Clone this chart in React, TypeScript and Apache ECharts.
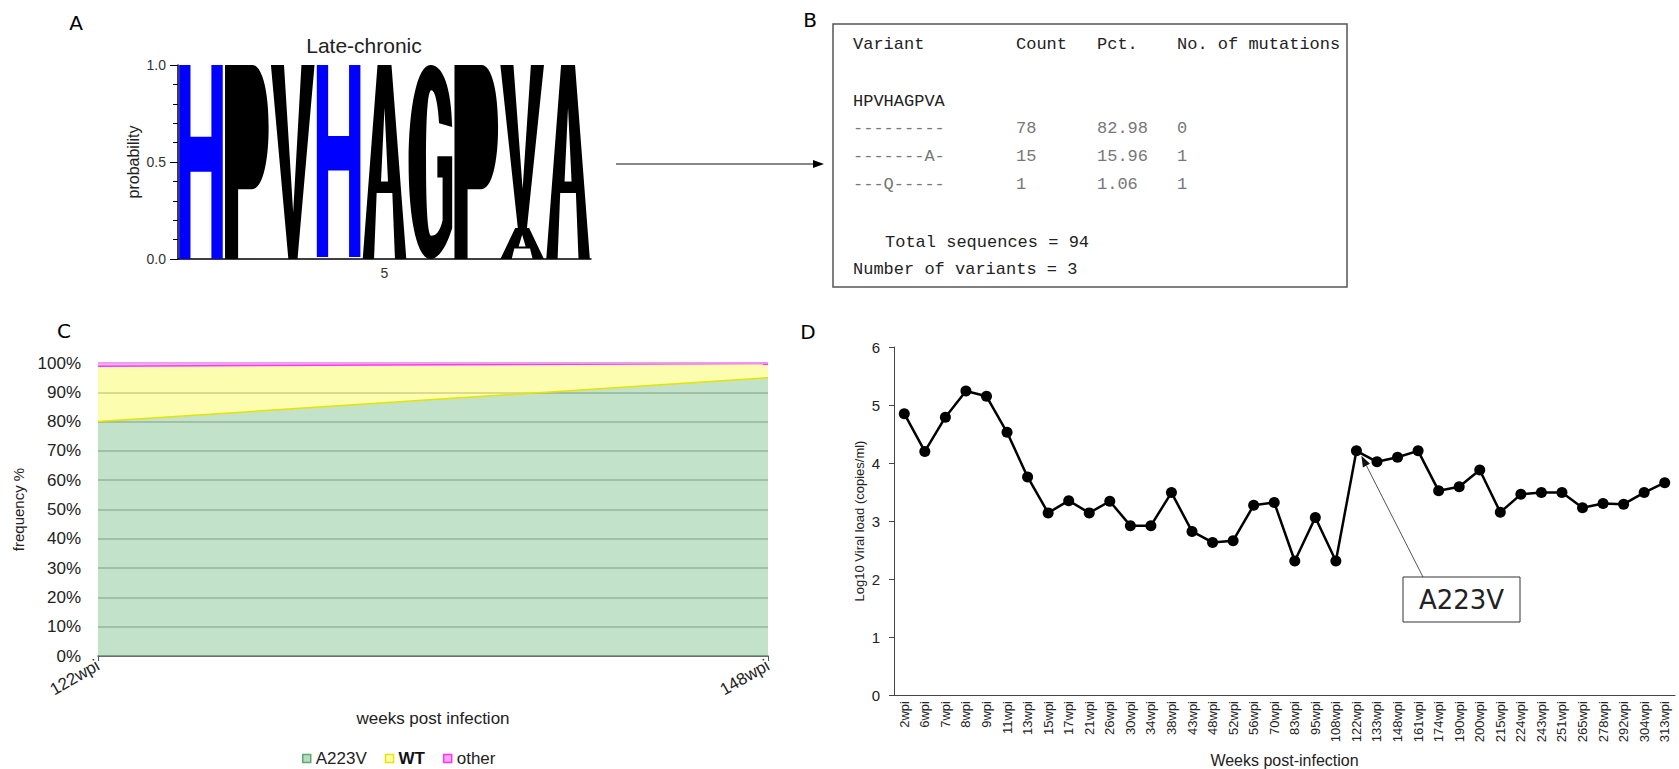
import React, { useEffect, useRef } from "react";
import * as echarts from "echarts";

// ---------- Panel A: sequence logo ----------
const logoPositions = ["1", "2", "3", "4", "5", "6", "7", "8", "9"];
const logoMainLetters = ["H", "P", "V", "H", "A", "G", "P", "V", "A"];
const logoMainProb = [1, 1, 1, 0.9894, 1, 1, 1, 0.8404, 1];
const logoMinorLetters = ["", "", "", "Q", "", "", "", "A", ""];
const logoMinorProb = [0, 0, 0, 0.0106, 0, 0, 0, 0.1596, 0];
const logoTitle = "Late-chronic";

// ---------- Panel B: variant table ----------
const tableHeaders = ["Variant", "Count", "Pct.", "No. of mutations"];
const referenceSequence = "HPVHAGPVA";
const variantPatterns = ["---------", "-------A-", "---Q-----"];
const variantCounts = ["78", "15", "1"];
const variantPcts = ["82.98", "15.96", "1.06"];
const variantMutations = ["0", "1", "1"];
const totalSequences = 94;
const numberOfVariants = 3;

// ---------- Panel C: stacked frequency ----------
const freqCategories = ["122wpi", "148wpi"];
const freqA223V = [80, 95];
const freqWT = [18.9, 4.8];
const freqOther = [1.1, 0.2];

// ---------- Panel D: viral load ----------
const vlCategories = [
  "2wpi", "6wpi", "7wpi", "8wpi", "9wpi", "11wpi", "13wpi", "15wpi", "17wpi", "21wpi",
  "26wpi", "30wpi", "34wpi", "38wpi", "43wpi", "48wpi", "52wpi", "56wpi", "70wpi", "83wpi",
  "95wpi", "108wpi", "122wpi", "133wpi", "148wpi", "161wpi", "174wpi", "190wpi", "200wpi", "215wpi",
  "224wpi", "243wpi", "251wpi", "265wpi", "278wpi", "292wpi", "304wpi", "313wpi",
];
const vlValues = [
  4.85, 4.2, 4.79, 5.24, 5.15, 4.53, 3.76, 3.14, 3.35, 3.14,
  3.34, 2.92, 2.92, 3.49, 2.82, 2.63, 2.66, 3.27, 3.32, 2.31,
  3.06, 2.31, 4.21, 4.02, 4.1, 4.21, 3.52, 3.59, 3.88, 3.15,
  3.46, 3.49, 3.49, 3.23, 3.3, 3.29, 3.49, 3.66,
];
const annotatedWeek = "122wpi";
const annotationLabel = "A223V";

const SANS = '"Liberation Sans", Arial, sans-serif';
const MONO = '"Liberation Mono", "Courier New", monospace';
const DEJAVU = '"DejaVu Sans", sans-serif';

const GLYPHS: Record<string, string> = {
  H: "M0 0H26V37H74V0H100V100H74V55H26V100H0Z",
  P: "M0 0H62C86 0 100 14 100 32C100 50 86 64 62 64H30V100H0Z",
  V: "M0 0H30L51 76L70 0H100L61 100H40Z",
  A: "M34 0H66L100 100H74L68 66H32L26 100H0Z M42 60H58L50 22Z",
  G: "M100 32C98 12 80 0 50 0C20 0 0 22 0 50C0 80 20 100 50 100C70 100 88 93 100 84V47H66V58H78V80C72 86 62 88 52 88C44 88 40 74 40 50C40 26 44 13 52 13C62 13 68 22 70 30Z",
  Q: "M50 0C80 0 100 22 100 50C100 78 80 100 50 100C20 100 0 78 0 50C0 22 20 0 50 0Z M50 20C36 20 28 32 28 50C28 68 36 80 50 80C64 80 72 68 72 50C72 32 64 20 50 20Z",
};
const LETTER_COLORS: Record<string, string> = { H: "#0000ff", Q: "#00a000" };

type LogoItem = { value: number[]; letter: string };
const logoItems: LogoItem[] = [];
logoPositions.forEach((_, i) => {
  if (logoMinorProb[i] > 0) {
    logoItems.push({ value: [i, 0, logoMinorProb[i]], letter: logoMinorLetters[i] });
  }
  logoItems.push({
    value: [i, logoMinorProb[i], logoMinorProb[i] + logoMainProb[i]],
    letter: logoMainLetters[i],
  });
});

function buildOption(): any {
  return {
    animation: false,
    backgroundColor: "#ffffff",
    grid: [
      { left: 178, top: 65, width: 413, height: 194 },
      { left: 98, top: 363, width: 670, height: 293 },
      { left: 894, top: 347, width: 781, height: 348 },
    ],
    legend: {
      left: 302,
      top: 750,
      padding: 0,
      itemWidth: 8,
      itemHeight: 8,
      itemGap: 18,
      icon: "rect",
      selectedMode: false,
      textStyle: { fontSize: 17, fontFamily: SANS, color: "#222" },
      data: [
        { name: "A223V", itemStyle: { color: "#b5dcc0", borderColor: "#5caa6c", borderWidth: 1.5 } },
        {
          name: "WT",
          itemStyle: { color: "#ffffa8", borderColor: "#e6e600", borderWidth: 1.5 },
          textStyle: { fontWeight: "bold", fontSize: 17, fontFamily: SANS, color: "#111" },
        },
        { name: "other", itemStyle: { color: "#ffa8ff", borderColor: "#ff33ff", borderWidth: 1.5 } },
      ],
    },
    xAxis: [
      {
        gridIndex: 0,
        type: "category",
        data: logoPositions,
        boundaryGap: true,
        axisLine: { lineStyle: { color: "#000", width: 1.5 } },
        axisTick: { alignWithLabel: true, length: 4, lineStyle: { color: "#000" } },
        axisLabel: {
          interval: 0,
          margin: 7,
          fontSize: 14,
          fontFamily: SANS,
          color: "#333",
          formatter: (v: string) => (v === "5" ? v : ""),
        },
        splitLine: { show: false },
      },
      {
        gridIndex: 1,
        type: "category",
        data: freqCategories,
        boundaryGap: false,
        axisLine: { lineStyle: { color: "#555", width: 1.5 } },
        axisTick: { length: 5, lineStyle: { color: "#555" } },
        axisLabel: { rotate: 30, margin: 8, fontSize: 17, fontFamily: SANS, color: "#222" },
        name: "weeks post infection",
        nameLocation: "middle",
        nameGap: 54,
        nameTextStyle: { fontSize: 17, fontFamily: SANS, color: "#222" },
      },
      {
        gridIndex: 2,
        type: "category",
        position: "bottom",
        data: vlCategories,
        boundaryGap: true,
        axisLine: { lineStyle: { color: "#444", width: 1 } },
        axisTick: { length: 5, interval: 0, lineStyle: { color: "#444" } },
        axisLabel: { rotate: 90, interval: 0, margin: 6, fontSize: 13, fontFamily: SANS, color: "#222" },
        name: "Weeks post-infection",
        nameLocation: "middle",
        nameGap: 57,
        nameTextStyle: { fontSize: 16, fontFamily: SANS, color: "#222" },
      },
      {
        gridIndex: 2,
        type: "category",
        position: "bottom",
        data: vlCategories,
        boundaryGap: true,
        axisLine: { show: false },
        axisTick: { inside: true, length: 5, interval: 0, lineStyle: { color: "#444" } },
        axisLabel: { show: false },
      },
    ],
    yAxis: [
      {
        gridIndex: 0,
        type: "value",
        min: 0,
        max: 1,
        interval: 0.5,
        axisLine: { show: true, lineStyle: { color: "#000", width: 1.5 } },
        axisTick: { show: true, length: 8, lineStyle: { color: "#000" } },
        minorTick: { show: true, splitNumber: 5, length: 5, lineStyle: { color: "#000" } },
        axisLabel: {
          margin: 12,
          fontSize: 14,
          fontFamily: SANS,
          color: "#333",
          formatter: (v: number) => v.toFixed(1),
        },
        splitLine: { show: false },
        name: "probability",
        nameLocation: "middle",
        nameGap: 37,
        nameTextStyle: { fontSize: 16, fontFamily: SANS, color: "#222" },
      },
      {
        gridIndex: 1,
        type: "value",
        min: 0,
        max: 100,
        interval: 10,
        axisLine: { show: false },
        axisTick: { show: false },
        axisLabel: { margin: 17, fontSize: 17, fontFamily: SANS, color: "#222", formatter: "{value}%" },
        splitLine: { lineStyle: { color: "#9a9a9a", width: 1.5 } },
        name: "frequency %",
        nameLocation: "middle",
        nameGap: 72,
        nameTextStyle: { fontSize: 15, fontFamily: SANS, color: "#222" },
      },
      {
        gridIndex: 2,
        type: "value",
        min: 0,
        max: 6,
        interval: 1,
        axisLine: { show: true, lineStyle: { color: "#444", width: 1 } },
        axisTick: { show: true, length: 5, lineStyle: { color: "#444" } },
        axisLabel: { margin: 14, fontSize: 15, fontFamily: SANS, color: "#222" },
        splitLine: { show: false },
        name: "Log10 Viral load (copies/ml)",
        nameLocation: "middle",
        nameGap: 28,
        nameTextStyle: { fontSize: 13, fontFamily: SANS, color: "#222" },
      },
    ],
    series: [
      {
        type: "custom",
        name: "logo",
        xAxisIndex: 0,
        yAxisIndex: 0,
        silent: true,
        encode: { x: 0, y: [1, 2] },
        data: logoItems.map((d) => d.value),
        renderItem: (params: any, api: any) => {
          const item = logoItems[params.dataIndex];
          const bottom = api.coord([api.value(0), api.value(1)]);
          const top = api.coord([api.value(0), api.value(2)]);
          const w = api.size([1, 0])[0] * 0.95;
          const h = bottom[1] - top[1];
          if (h <= 2.5) return null;
          return {
            type: "path",
            shape: {
              pathData: GLYPHS[item.letter],
              x: bottom[0] - w / 2,
              y: top[1],
              width: w,
              height: h,
              layout: "cover",
            },
            style: { fill: LETTER_COLORS[item.letter] || "#000000" },
          };
        },
      },
      {
        type: "line",
        name: "A223V",
        xAxisIndex: 1,
        yAxisIndex: 1,
        stack: "freq",
        symbol: "none",
        silent: true,
        data: freqA223V,
        lineStyle: { color: "#e4e400", width: 1.5 },
        areaStyle: { color: "#8fcc9f", opacity: 0.55 },
        itemStyle: { color: "#5caa6c" },
      },
      {
        type: "line",
        name: "WT",
        xAxisIndex: 1,
        yAxisIndex: 1,
        stack: "freq",
        symbol: "none",
        silent: true,
        data: freqWT,
        lineStyle: { color: "#ff33ff", width: 1.5 },
        areaStyle: { color: "#fbfb6f", opacity: 0.55 },
        itemStyle: { color: "#e6e600" },
      },
      {
        type: "line",
        name: "other",
        xAxisIndex: 1,
        yAxisIndex: 1,
        stack: "freq",
        symbol: "none",
        silent: true,
        data: freqOther,
        lineStyle: { color: "#ffa0ff", width: 1.5 },
        areaStyle: { color: "#ff75ff", opacity: 0.55 },
        itemStyle: { color: "#ff33ff" },
      },
      {
        type: "line",
        name: "viral load",
        xAxisIndex: 2,
        yAxisIndex: 2,
        silent: true,
        data: vlValues,
        symbol: "circle",
        symbolSize: 11,
        lineStyle: { color: "#000", width: 2.5 },
        itemStyle: { color: "#000" },
      },
    ],
  };
}

function buildGraphics(tip: number[]): any[] {
  const els: any[] = [];
  const panelLetter = (t: string, x: number, y: number) => ({
    type: "text",
    x,
    y,
    style: { text: t, fontSize: 20, fontFamily: DEJAVU, fill: "#000", align: "center", verticalAlign: "middle" },
  });
  els.push(panelLetter("A", 76, 23));
  els.push(panelLetter("B", 810, 20));
  els.push(panelLetter("C", 64, 331));
  els.push(panelLetter("D", 808, 332));

  els.push({
    type: "text",
    x: 364,
    y: 45,
    style: { text: logoTitle, fontSize: 21, fontFamily: SANS, fill: "#222", align: "center", verticalAlign: "middle" },
  });

  // Panel B table
  els.push({
    type: "rect",
    shape: { x: 833, y: 24, width: 514, height: 263 },
    style: { fill: "none", stroke: "#555", lineWidth: 1.5 },
  });
  const colX = [853, 1016, 1097, 1177];
  const txt = (t: string, x: number, y: number, strong: boolean) => ({
    type: "text",
    x,
    y,
    style: {
      text: t,
      fontSize: 17,
      fontFamily: MONO,
      fontWeight: "normal",
      fill: strong ? "#222" : "#777",
      align: "left",
      verticalAlign: "middle",
    },
  });
  tableHeaders.forEach((h, i) => els.push(txt(h, colX[i], 44, true)));
  els.push(txt(referenceSequence, colX[0], 101, true));
  const rowY = [128, 156, 184];
  variantPatterns.forEach((p, r) => {
    els.push(txt(p, colX[0], rowY[r], false));
    els.push(txt(variantCounts[r], colX[1], rowY[r], false));
    els.push(txt(variantPcts[r], colX[2], rowY[r], false));
    els.push(txt(variantMutations[r], colX[3], rowY[r], false));
  });
  els.push(txt("Total sequences = " + totalSequences, 885, 242, true));
  els.push(txt("Number of variants = " + numberOfVariants, colX[0], 269, true));

  // Arrow A -> B
  els.push({ type: "line", shape: { x1: 616, y1: 164, x2: 814, y2: 164 }, style: { stroke: "#888", lineWidth: 2 } });
  els.push({ type: "polygon", shape: { points: [[813, 160], [824, 164], [813, 168]] }, style: { fill: "#000" } });

  // Panel D annotation
  const sx = 1423;
  const sy = 577;
  const tx = tip[0];
  const ty = tip[1];
  const dx = tx - sx;
  const dy = ty - sy;
  const len = Math.sqrt(dx * dx + dy * dy) || 1;
  const ux = dx / len;
  const uy = dy / len;
  const bx = tx - ux * 11;
  const by = ty - uy * 11;
  const px = -uy;
  const py = ux;
  els.push({ type: "line", shape: { x1: sx, y1: sy, x2: bx, y2: by }, style: { stroke: "#555", lineWidth: 1 } });
  els.push({
    type: "polygon",
    shape: { points: [[tx, ty], [bx + px * 4, by + py * 4], [bx - px * 4, by - py * 4]] },
    style: { fill: "#111" },
  });
  els.push({
    type: "rect",
    shape: { x: 1403, y: 577, width: 117, height: 45 },
    style: { fill: "#fff", stroke: "#333", lineWidth: 1 },
  });
  els.push({
    type: "text",
    x: 1461.5,
    y: 600,
    style: { text: annotationLabel, fontSize: 26, fontFamily: DEJAVU, fill: "#222", align: "center", verticalAlign: "middle" },
  });
  return els;
}

export default function App() {
  const ref = useRef<HTMLDivElement>(null);
  useEffect(() => {
    if (!ref.current) return;
    const chart = echarts.init(ref.current, null, { renderer: "svg" });
    chart.setOption(buildOption());
    const idx = vlCategories.indexOf(annotatedWeek);
    const p = chart.convertToPixel({ seriesIndex: 4 } as any, [idx, vlValues[idx]]) as any;
    const tip = [p[0] + 5, p[1] + 5];
    chart.setOption({ graphic: buildGraphics(tip) });
    return () => {
      chart.dispose();
    };
  }, []);
  return (
    <div
      ref={ref}
      style={{ position: "fixed", left: 0, top: 0, width: 1679, height: 769, background: "#fff" }}
    />
  );
}
